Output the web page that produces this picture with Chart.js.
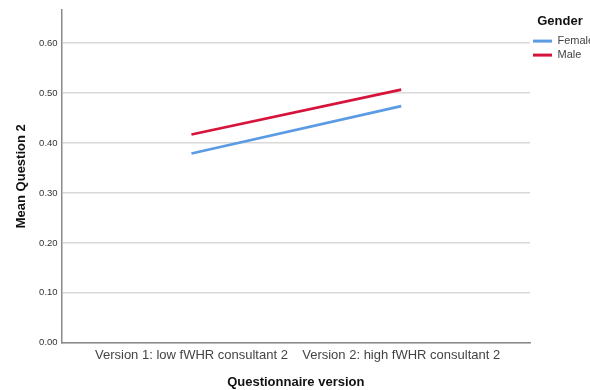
<!DOCTYPE html>
<html>
<head>
<meta charset="utf-8">
<script src="https://cdn.jsdelivr.net/npm/chart.js@4/dist/chart.umd.min.js"></script>
<style>
  html, body { margin: 0; padding: 0; background: #ffffff; }
  #wrap { width: 590px; height: 390px; }
</style>
</head>
<body>
<div id="wrap"><canvas id="c" width="590" height="390"></canvas></div>
<script>
const categories = ["Version 1: low fWHR consultant 2", "Version 2: high fWHR consultant 2"];
const seriesNames = ["Female", "Male"];
const femaleValues = [0.379, 0.474];
const maleValues = [0.417, 0.507];
const yTicks = [0.0, 0.1, 0.2, 0.3, 0.4, 0.5, 0.6];
const legendTitle = "Gender";
const xTitle = "Questionnaire version";
const yTitle = "Mean Question 2";

const FONT = "'Liberation Sans', Arial, Helvetica, sans-serif";

function toPoints(vals) { return vals.map((v, i) => ({ x: i, y: v })); }

new Chart(document.getElementById('c'), {
  type: 'line',
  data: {
    datasets: [
      { label: seriesNames[0], data: toPoints(femaleValues), borderColor: '#5b9be3', backgroundColor: '#5b9be3', borderWidth: 2.7, pointRadius: 0, tension: 0 },
      { label: seriesNames[1], data: toPoints(maleValues), borderColor: '#d5133b', backgroundColor: '#d5133b', borderWidth: 2.7, pointRadius: 0, tension: 0 }
    ]
  },
  options: {
    responsive: false,
    animation: false,
    layout: { padding: { top: 9, left: 6, right: 0, bottom: 0 } },
    plugins: {
      tooltip: { enabled: false },
      legend: {
        position: 'right',
        align: 'start',
        maxWidth: 60,
        title: { display: true, text: legendTitle, color: '#111', font: { family: FONT, size: 13, weight: 'bold' }, padding: { top: 6, bottom: 2 } },
        labels: {
          boxWidth: 19, boxHeight: 3, padding: 3, color: '#444', font: { family: FONT, size: 11 },
          generateLabels: (chart) => Chart.defaults.plugins.legend.labels.generateLabels(chart).map(l => Object.assign(l, { lineWidth: 0 }))
        }
      }
    },
    scales: {
      x: {
        type: 'linear',
        min: -0.619,
        max: 1.614,
        afterBuildTicks: (s) => { s.ticks = categories.map((c, i) => ({ value: i })); },
        ticks: { callback: (v) => categories[v], color: '#444', font: { family: FONT, size: 13 }, padding: 5, maxRotation: 0, autoSkip: false },
        grid: { display: false, drawTicks: false },
        border: { display: true, color: '#8a8a8a', width: 1.5 },
        title: { display: true, text: xTitle, color: '#111', font: { family: FONT, size: 13, weight: 'bold' }, padding: { top: 6, bottom: 0 } }
      },
      y: {
        min: 0,
        max: 0.667,
        afterBuildTicks: (s) => { s.ticks = yTicks.map(v => ({ value: v })); },
        ticks: { callback: (v) => Number(v).toFixed(2), color: '#333', font: { family: FONT, size: 9.5 }, padding: 4 },
        grid: { color: '#d9d9d9', lineWidth: 1.5, drawTicks: false },
        border: { display: true, color: '#8a8a8a', width: 1.5 },
        title: { display: true, text: yTitle, color: '#111', font: { family: FONT, size: 13, weight: 'bold' }, padding: { top: 8, bottom: 5.5 } }
      }
    }
  }
});
</script>
</body>
</html>
